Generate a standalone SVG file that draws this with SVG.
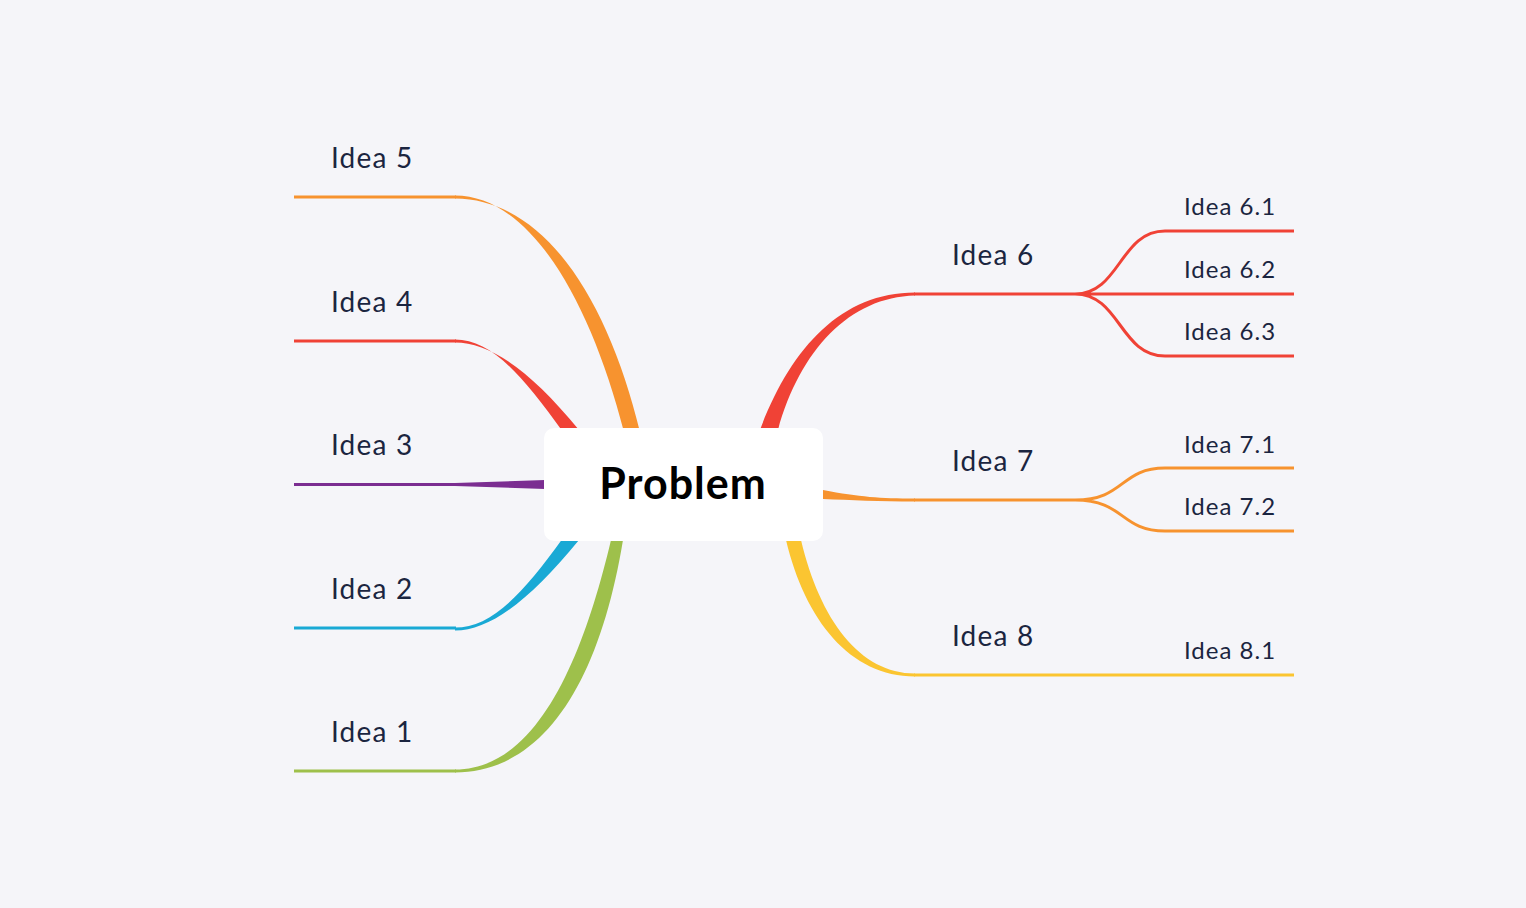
<svg xmlns="http://www.w3.org/2000/svg" width="1526" height="908" viewBox="0 0 1526 908">
<style>
.t{font-family:Lato,"Noto Sans",sans-serif;fill:#1b2540;font-size:28px;letter-spacing:1.2px}
.s{font-family:Lato,"Noto Sans",sans-serif;fill:#1b2540;font-size:24px;letter-spacing:1px}
.l{fill:none;stroke-width:3}
</style>
<rect width="1526" height="908" fill="#f5f5f9"/>
<g id="connectors">
<path d="M624,432 C590,300 530,195.5 455,195.5 L455,198.5 C545,199 608,300 640,432 Z" fill="#f7932f"/>
<path class="l" d="M294,197 H456" stroke="#f7932f"/>
<path d="M563,432 C520,372 490,339.5 455,339.5 L455,342.5 C490,342.5 530,370 579,430 Z" fill="#f04236"/>
<path class="l" d="M294,341 H456" stroke="#f04236"/>
<path d="M455,483 L545,480 L545,489 L455,486 Z" fill="#7b2d91"/>
<path class="l" d="M294,484.5 H456" stroke="#7b2d91"/>
<path d="M579,540 C530,600 490,630.5 455,630.5 L455,627.5 C490,627.5 520,598 563,538 Z" fill="#19a9d5"/>
<path class="l" d="M294,628 H456" stroke="#19a9d5"/>
<path d="M611,540 C585,650 540,769.5 455,769.5 L455,772.5 C545,772 600,680 623,540 Z" fill="#9ec04b"/>
<path class="l" d="M294,771 H456" stroke="#9ec04b"/>
<path d="M760,430 C790,350 840,292.5 915,292.5 L915,295.5 C850,297 800,350 778,430 Z" fill="#f04236"/>
<path class="l" d="M914,294 H1294 M1075,294 C1120,294 1120,231 1165,231 H1294 M1075,294 C1120,294 1120,356 1165,356 H1294" stroke="#f04236"/>
<path d="M823,490 C860,497 880,498.5 915,498.5 L915,501.5 C880,501.5 850,500 823,499 Z" fill="#f7932f"/>
<path class="l" d="M914,500 H1075 C1125,500 1120,468 1165,468 H1294 M1075,500 C1125,500 1120,531 1165,531 H1294" stroke="#f7932f"/>
<path d="M786,540 C805,620 850,676.5 915,676.5 L915,673.5 C860,673.5 820,620 801,540 Z" fill="#fbc531"/>
<path class="l" d="M914,675 H1294" stroke="#fbc531"/>
</g>
<g id="problem"><rect x="544" y="428" width="279" height="113" rx="10" fill="#fff"/>
<text x="683" y="499" text-anchor="middle" font-family="Lato,'Noto Sans',sans-serif" font-weight="bold" font-size="43" letter-spacing="1" fill="#000">Problem</text></g>
<g id="idea5"><text class="t" x="331" y="168">Idea 5</text></g>
<g id="idea4"><text class="t" x="331" y="312">Idea 4</text></g>
<g id="idea3"><text class="t" x="331" y="455">Idea 3</text></g>
<g id="idea2"><text class="t" x="331" y="599">Idea 2</text></g>
<g id="idea1"><text class="t" x="331" y="742">Idea 1</text></g>
<g id="idea6"><text class="t" x="952" y="265">Idea 6</text></g>
<g id="idea7"><text class="t" x="952" y="471">Idea 7</text></g>
<g id="idea8"><text class="t" x="952" y="646">Idea 8</text></g>
<g id="idea61"><text class="s" x="1184" y="215">Idea 6.1</text></g>
<g id="idea62"><text class="s" x="1184" y="278">Idea 6.2</text></g>
<g id="idea63"><text class="s" x="1184" y="340">Idea 6.3</text></g>
<g id="idea71"><text class="s" x="1184" y="453">Idea 7.1</text></g>
<g id="idea72"><text class="s" x="1184" y="515">Idea 7.2</text></g>
<g id="idea81"><text class="s" x="1184" y="659">Idea 8.1</text></g>
</svg>
